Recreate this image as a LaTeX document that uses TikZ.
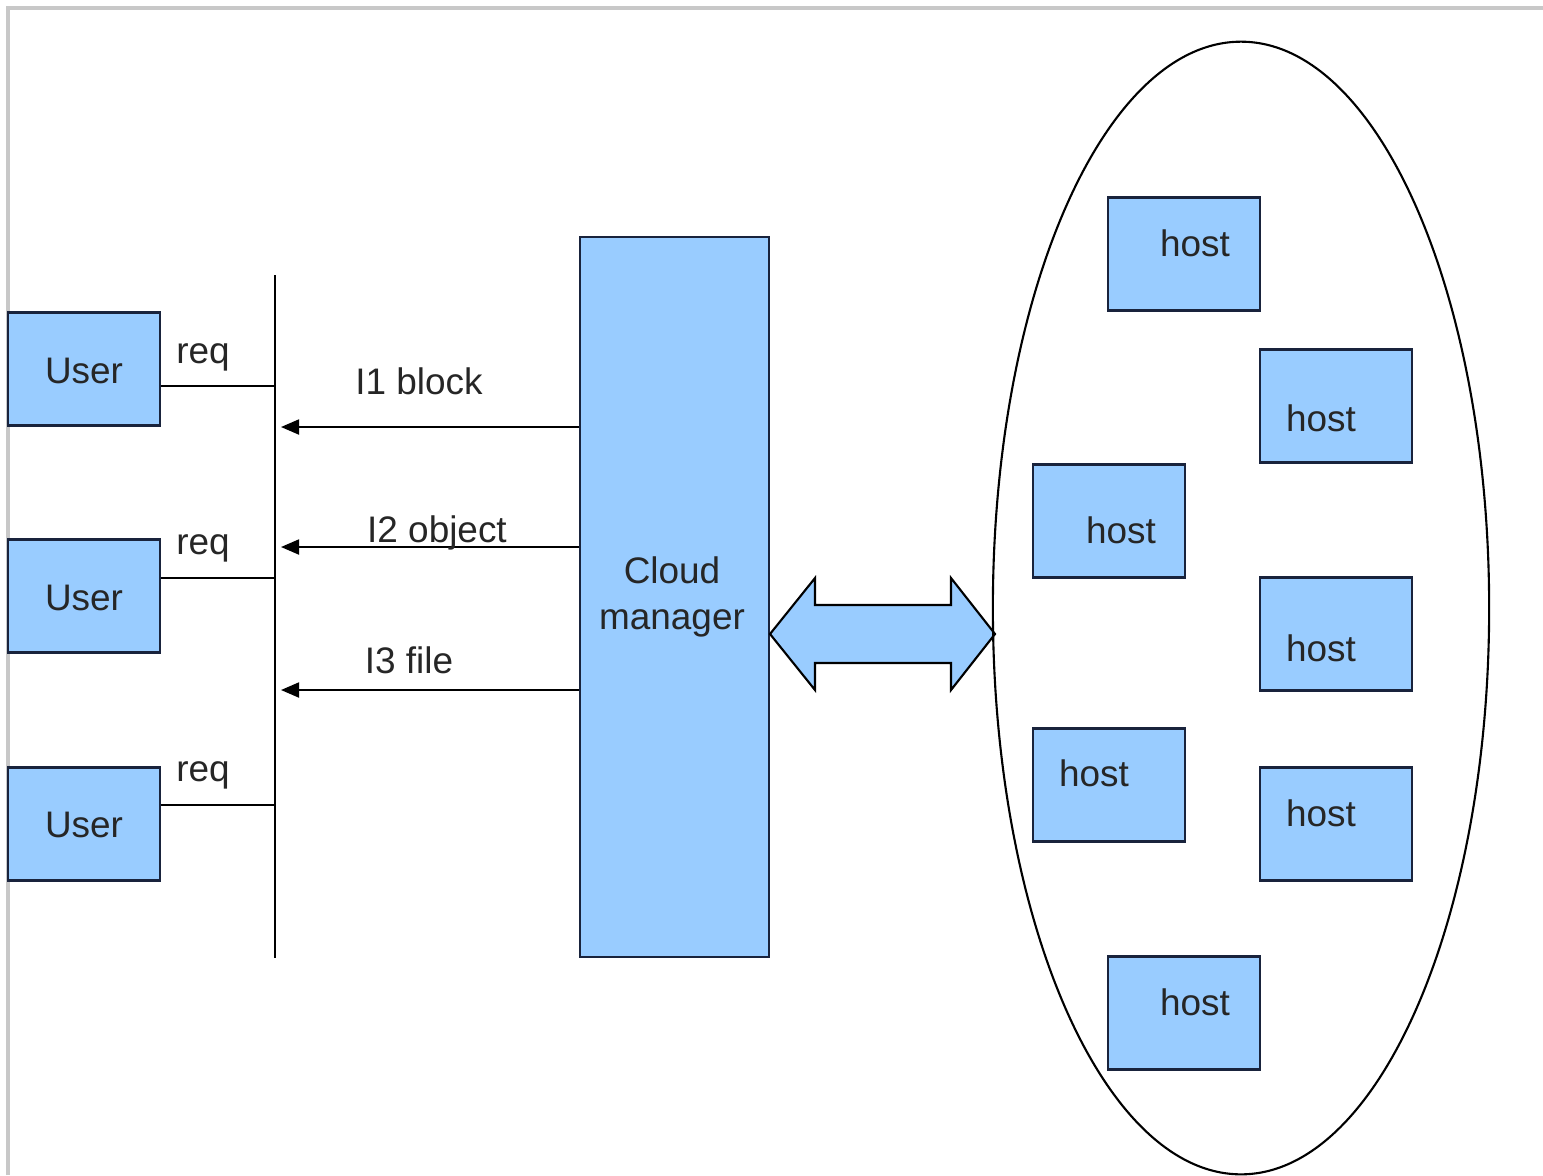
\documentclass[tikz,border=0pt]{standalone}
\usepackage{fontspec}
\setmainfont{Liberation Sans}
\usetikzlibrary{arrows.meta}
\definecolor{boxfill}{RGB}{153,204,255}
\definecolor{boxline}{RGB}{25,35,60}
\definecolor{framegray}{RGB}{200,200,200}
\begin{document}
\begin{tikzpicture}[x=0.01cm,y=-0.01cm,
  font=\fontsize{10.5}{12.5}\selectfont, line width=0.55pt,
  bluebox/.style={draw=boxline, fill=boxfill, inner sep=0pt, line width=0.7pt},
  userbox/.style={bluebox, minimum width=1.52cm, minimum height=1.13cm},
  hostbox/.style={bluebox, minimum width=1.52cm, minimum height=1.13cm},
  lbl/.style={inner sep=0pt, text=black!85},
  feed/.style={-{Triangle[length=1.8mm,width=1.5mm]}, shorten >=0.06cm}]
\useasboundingbox (0,0) rectangle (1543,1175);
% page frame
\draw[framegray, line width=1.2pt] (8,1175) -- (8,8) -- (1543,8);

% users
\node[userbox] (u1) at (84,369) {};
\node[userbox] (u2) at (84,596) {};
\node[userbox] (u3) at (84,824) {};
\node[lbl] (u1t) at (84,371) {User};
\node[lbl] (u2t) at (84,598) {User};
\node[lbl] (u3t) at (84,825) {User};

% request bus
\coordinate (busTop) at (275,275);
\coordinate (busBot) at (275,958);
\draw (busTop) -- (busBot);
\coordinate (r1) at (275,386);
\coordinate (r2) at (275,578);
\coordinate (r3) at (275,805);
\draw (u1.east |- r1) -- (r1);
\draw (u2.east |- r2) -- (r2);
\draw (u3.east |- r3) -- (r3);
\node[lbl] (q1) at (203,357) {req};
\node[lbl] (q2) at (203,548) {req};
\node[lbl] (q3) at (203,775) {req};

% cloud manager
\node[bluebox, minimum width=1.89cm, minimum height=7.2cm] (cm) at (674.5,597) {};
\node[lbl, align=center] (cmt) at (672,597) {Cloud\\[0.5pt]manager};

% interfaces
\coordinate (a1) at (275,427);
\coordinate (a2) at (275,547);
\coordinate (a3) at (275,690);
\draw[feed] (cm.west |- a1) -- (a1);
\draw[feed] (cm.west |- a2) -- (a2);
\draw[feed] (cm.west |- a3) -- (a3);
\node[lbl] (l1) at (419,381) {I1 block};
\node[lbl] (l2) at (437,533) {I2 object};
\node[lbl] (l3) at (409,660) {I3 file};

% two-way link to the host pool
\draw[fill=boxfill, line width=0.6pt, line join=miter]
  (770,634) -- (815,578) -- (815,605) -- (951,605) -- (951,578) -- (995,634)
  -- (951,690) -- (951,663) -- (815,663) -- (815,690) -- cycle;

% host pool
\draw[line width=0.6pt] (1241,608) ellipse [x radius=2.48cm, y radius=5.66cm];
\node[hostbox] (h1) at (1184,254) {};
\node[hostbox] (h2) at (1336,406) {};
\node[hostbox] (h3) at (1109,521) {};
\node[hostbox] (h4) at (1336,634) {};
\node[hostbox] (h5) at (1109,785) {};
\node[hostbox] (h6) at (1336,824) {};
\node[hostbox] (h7) at (1184,1013) {};
\node[lbl] (h1t) at (1195,243) {host};
\node[lbl] (h2t) at (1321,418) {host};
\node[lbl] (h3t) at (1121,530) {host};
\node[lbl] (h4t) at (1321,648) {host};
\node[lbl] (h5t) at (1094,773) {host};
\node[lbl] (h6t) at (1321,813) {host};
\node[lbl] (h7t) at (1195,1002) {host};
\end{tikzpicture}
\end{document}
